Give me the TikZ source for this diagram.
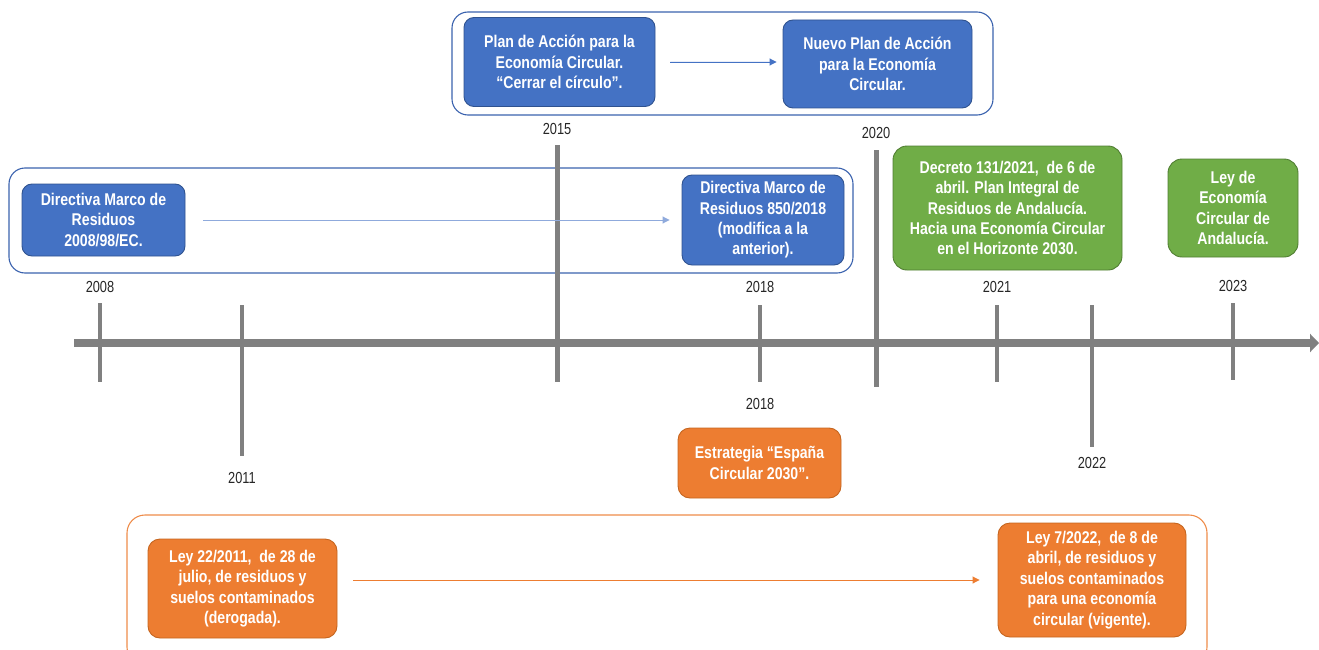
\documentclass[tikz,border=0pt]{standalone}
\usepackage{fontspec}
\setmainfont[FakeStretch=0.83]{Liberation Sans}
\newfontfamily\yearfont[FakeStretch=0.8]{Liberation Sans}
\usetikzlibrary{arrows.meta}
\definecolor{bfill}{HTML}{4472C4}
\definecolor{bline}{HTML}{2F528F}
\definecolor{gfill}{HTML}{70AD47}
\definecolor{gline}{HTML}{507E32}
\definecolor{ofill}{HTML}{ED7D31}
\definecolor{oline}{HTML}{C5651F}
\definecolor{bframe}{HTML}{3A62AE}
\definecolor{oframe}{HTML}{EE8C4A}
\definecolor{lightblue}{HTML}{8FAADC}
\definecolor{axisgray}{HTML}{808080}
\definecolor{yeartext}{HTML}{262626}
\begin{document}
\begin{tikzpicture}[x=1pt,y=-1pt,
  boxtext/.style={font=\fontsize{17}{20.4}\selectfont\bfseries, text=white, align=center, inner sep=0pt},
  bluebox/.style={boxtext, fill=bfill, draw=bline, line width=0.9pt, rounded corners=10pt},
  greenbox/.style={boxtext, fill=gfill, draw=gline, line width=0.9pt, rounded corners=14pt},
  orangebox/.style={boxtext, fill=ofill, draw=oline, line width=0.9pt, rounded corners=12pt},
  frameb/.style={draw=bframe, line width=1.1pt, rounded corners=16pt, inner sep=0pt},
  frameo/.style={draw=oframe, line width=1.1pt, rounded corners=18pt, inner sep=0pt},
  year/.style={font=\yearfont\fontsize{16}{19}\selectfont, text=yeartext, inner sep=0pt},
  tick/.style={draw=axisgray, line width=4pt},
  bigtick/.style={draw=axisgray, line width=5pt},
  axisline/.style={draw=axisgray, line width=8pt, -{Triangle[length=9pt,width=18pt]}},
  conn/.style={line width=0.9pt, -{Triangle[length=7pt,width=7pt]}}
]
\useasboundingbox (0,0) rectangle (1319,650);

% frames
\node[frameb, minimum width=844pt, minimum height=105pt] (frame1) at (431,220.5) {};
\node[frameb, minimum width=541pt, minimum height=103pt] (frame2) at (722.5,63.5) {};
\node[frameo, minimum width=1080pt, minimum height=150pt] (frame3) at (667,590) {};

% axis
\coordinate (axs) at (74,343);
\coordinate (axe) at (1319,343);
\draw[axisline] (axs) -- (axe);

% ticks
\coordinate (t08a) at (100,303);  \coordinate (t08b) at (100,382);
\coordinate (t11a) at (242,305);  \coordinate (t11b) at (242,456);
\coordinate (t15a) at (557,145);  \coordinate (t15b) at (557,382);
\coordinate (t18a) at (760,305);  \coordinate (t18b) at (760,382);
\coordinate (t20a) at (876,150);  \coordinate (t20b) at (876,387);
\coordinate (t21a) at (997,305);  \coordinate (t21b) at (997,382);
\coordinate (t22a) at (1092,305); \coordinate (t22b) at (1092,447);
\coordinate (t23a) at (1233,303); \coordinate (t23b) at (1233,380);
\draw[tick] (t08a) -- (t08b);
\draw[tick] (t11a) -- (t11b);
\draw[bigtick] (t15a) -- (t15b);
\draw[tick] (t18a) -- (t18b);
\draw[bigtick] (t20a) -- (t20b);
\draw[tick] (t21a) -- (t21b);
\draw[tick] (t22a) -- (t22b);
\draw[tick] (t23a) -- (t23b);

% year labels
\node[year] (y2008) at (100,287) {2008};
\node[year] (y2011) at (242,478) {2011};
\node[year] (y2015) at (557,129) {2015};
\node[year] (y2018a) at (760,287) {2018};
\node[year] (y2018b) at (760,404) {2018};
\node[year] (y2020) at (876,133) {2020};
\node[year] (y2021) at (997,287) {2021};
\node[year] (y2022) at (1092,463) {2022};
\node[year] (y2023) at (1233,286) {2023};

% boxes
\node[bluebox, minimum width=163pt, minimum height=72pt] (dir1) at (103.5,220) {Directiva Marco de\\Residuos\\2008/98/EC.};
\node[bluebox, minimum width=162pt, minimum height=90pt] (dir2) at (763,220) {Directiva Marco de\\Residuos 850/2018\\(modifica a la\\anterior).};
\node[bluebox, minimum width=191pt, minimum height=89pt] (plan) at (559.5,62) {Plan de Acción para la\\Economía Circular.\\“Cerrar el círculo”.};
\node[bluebox, minimum width=189pt, minimum height=88pt] (nuevo) at (877.5,64) {Nuevo Plan de Acción\\para la Economía\\Circular.};
\node[greenbox, minimum width=229pt, minimum height=124pt] (decreto) at (1007.5,208) {Decreto 131/2021,\ \ de 6 de\\abril. Plan Integral de\\Residuos de Andalucía.\\Hacia una Economía Circular\\en el Horizonte 2030.};
\node[greenbox, minimum width=130pt, minimum height=98pt] (leyand) at (1233,208) {Ley de\\Economía\\Circular de\\Andalucía.};
\node[orangebox, minimum width=163pt, minimum height=70pt] (estr) at (759.5,463) {Estrategia “España\\Circular 2030”.};
\node[orangebox, minimum width=189pt, minimum height=99pt] (ley22) at (242.5,588.5) {Ley 22/2011,\ \ de 28 de\\julio, de residuos y\\suelos contaminados\\(derogada).};
\node[orangebox, minimum width=188pt, minimum height=114pt] (ley7) at (1092,580) {Ley 7/2022,\ \ de 8 de\\abril, de residuos y\\suelos contaminados\\para una economía\\circular (vigente).};

% connectors
\draw[conn, draw=lightblue, fill=bfill, shorten <=18pt, shorten >=12pt] (dir1.east) -- (dir1.east -| dir2.west);
\draw[conn, draw=bfill, fill=bfill, shorten <=15pt, shorten >=6pt] (plan.east) -- (plan.east -| nuevo.west);
\draw[conn, draw=ofill, fill=ofill, shorten <=16pt, shorten >=18pt] (ley22.east |- ley7.west) -- (ley7.west);
\end{tikzpicture}
\end{document}
